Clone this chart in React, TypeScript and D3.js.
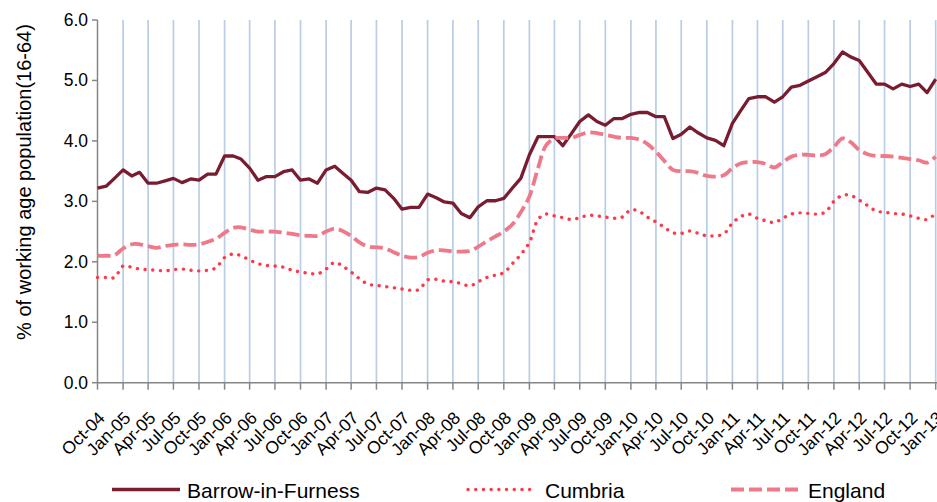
import React from "react";
import * as d3 from "d3";

const START = new Date(2004, 9, 1);
const END = new Date(2013, 0, 1);

const barrow = [
  3.22, 3.25, 3.38, 3.52, 3.42, 3.48, 3.30, 3.30, 3.34, 3.38,
  3.31, 3.37, 3.35, 3.45, 3.45, 3.75, 3.75, 3.70, 3.55, 3.35,
  3.41, 3.41, 3.49, 3.52, 3.35, 3.37, 3.30, 3.52, 3.58, 3.47,
  3.35, 3.16, 3.15, 3.22, 3.19, 3.05, 2.87, 2.90, 2.90, 3.12,
  3.06, 2.99, 2.97, 2.80, 2.73, 2.91, 3.01, 3.01, 3.05, 3.22,
  3.38, 3.77, 4.07, 4.07, 4.07, 3.92, 4.12, 4.32, 4.43, 4.32,
  4.26, 4.37, 4.37, 4.44, 4.47, 4.47, 4.40, 4.40, 4.04, 4.11,
  4.23, 4.13, 4.05, 4.01, 3.92, 4.29, 4.51, 4.70, 4.73, 4.73,
  4.64, 4.73, 4.89, 4.92, 4.99, 5.06, 5.13, 5.28, 5.47, 5.39,
  5.33, 5.14, 4.94, 4.94, 4.86, 4.94, 4.90, 4.94, 4.80, 5.02,
];

const cumbria = [
  1.74, 1.74, 1.74, 1.93, 1.91, 1.88, 1.87, 1.86, 1.85, 1.87,
  1.88, 1.86, 1.85, 1.86, 1.90, 2.07, 2.13, 2.10, 2.03, 1.97,
  1.94, 1.93, 1.91, 1.86, 1.83, 1.81, 1.80, 1.88, 1.99, 1.93,
  1.83, 1.72, 1.63, 1.61, 1.59, 1.57, 1.55, 1.53, 1.54, 1.70,
  1.71, 1.68, 1.67, 1.64, 1.60, 1.67, 1.74, 1.78, 1.82, 1.97,
  2.12, 2.32, 2.70, 2.79, 2.76, 2.73, 2.70, 2.73, 2.77, 2.76,
  2.74, 2.72, 2.74, 2.86, 2.83, 2.74, 2.66, 2.57, 2.48, 2.47,
  2.51, 2.47, 2.43, 2.43, 2.46, 2.64, 2.75, 2.79, 2.72, 2.68,
  2.65, 2.72, 2.79, 2.81, 2.80, 2.79, 2.82, 3.00, 3.10, 3.10,
  3.02, 2.93, 2.84, 2.82, 2.80, 2.79, 2.76, 2.72, 2.70, 2.80,
];

const england = [
  2.10, 2.10, 2.11, 2.22, 2.29, 2.29, 2.26, 2.23, 2.26, 2.28,
  2.29, 2.28, 2.29, 2.33, 2.38, 2.48, 2.56, 2.57, 2.53, 2.50,
  2.50, 2.50, 2.48, 2.46, 2.44, 2.43, 2.43, 2.50, 2.55, 2.51,
  2.43, 2.32, 2.25, 2.24, 2.22, 2.16, 2.10, 2.07, 2.08, 2.15,
  2.19, 2.19, 2.17, 2.17, 2.18, 2.25, 2.34, 2.42, 2.50, 2.62,
  2.82, 3.08, 3.55, 3.92, 4.04, 4.05, 4.05, 4.10, 4.14, 4.13,
  4.10, 4.07, 4.05, 4.05, 4.02, 3.95, 3.82, 3.67, 3.52, 3.50,
  3.50, 3.47, 3.42, 3.41, 3.43, 3.55, 3.63, 3.65, 3.65, 3.62,
  3.56, 3.65, 3.74, 3.77, 3.77, 3.76, 3.78, 3.90, 4.04, 3.98,
  3.85, 3.78, 3.75, 3.75, 3.74, 3.72, 3.70, 3.68, 3.64, 3.74,
];

const yTicks = [0, 1, 2, 3, 4, 5, 6];
const seriesNames = ["Barrow-in-Furness", "Cumbria", "England"];

const FONT = "'Liberation Sans', Arial, sans-serif";
const W = 937;
const H = 502;

export default function App() {
  const months = d3.timeMonth.range(START, d3.timeMonth.offset(END, 1));
  const tickDates = d3.timeMonth.every(3)!.range(START, d3.timeMonth.offset(END, 1));
  const fmt = d3.timeFormat("%b-%y");

  const x = d3.scaleTime().domain([START, END]).range([97.5, 935.7]);
  const y = d3.scaleLinear().domain([0, 6]).range([382.7, 20]);

  const linear = d3
    .line<number>()
    .x((_, i) => x(months[i]))
    .y((d) => y(d))
    .curve(d3.curveLinear);
  const smooth = d3
    .line<number>()
    .x((_, i) => x(months[i]))
    .y((d) => y(d))
    .curve(d3.curveCatmullRom.alpha(0.5));

  const axisColor = "#868686";
  const gridColor = "#b9cde5";
  const cBarrow = "#7a1c30";
  const cCumbria = "#ff3a48";
  const cEngland = "#ef7889";

  const legend = [
    { name: seriesNames[0], x0: 112, x1: 180, tx: 187, color: cBarrow, dash: undefined, w: 3.5, cap: "butt" },
    { name: seriesNames[1], x0: 468, x1: 535, tx: 545, color: cCumbria, dash: "0.1 7.6", w: 3.4, cap: "round" },
    { name: seriesNames[2], x0: 731, x1: 798, tx: 808, color: cEngland, dash: "13 5", w: 3.8, cap: "butt" },
  ];

  return (
    <div style={{ position: "fixed", left: 0, top: 0, width: W, height: H, background: "#fff" }}>
      <svg width={W} height={H} style={{ display: "block" }} fontFamily={FONT}>
        <rect x={0} y={0} width={W} height={H} fill="#fff" />
        {tickDates.slice(1).map((d, i) => (
          <line key={"g" + i} x1={x(d)} x2={x(d)} y1={y(6)} y2={y(0)} stroke={gridColor} strokeWidth={1.7} />
        ))}
        <line x1={97.5} x2={97.5} y1={y(6)} y2={y(0)} stroke={axisColor} strokeWidth={1.5} />
        {yTicks.map((t) => (
          <g key={"y" + t}>
            <line x1={92} x2={97.5} y1={y(t)} y2={y(t)} stroke={axisColor} strokeWidth={1.5} />
            <text x={88} y={y(t) + 6} textAnchor="end" fontSize={17.5} fill="#000">
              {t.toFixed(1)}
            </text>
          </g>
        ))}
        <line x1={97.5} x2={W} y1={y(0)} y2={y(0)} stroke={axisColor} strokeWidth={1.5} />
        {tickDates.map((d, i) => (
          <g key={"x" + i}>
            <line x1={x(d)} x2={x(d)} y1={y(0)} y2={y(0) + 7} stroke={axisColor} strokeWidth={1.5} />
            <text
              transform={`translate(${x(d) + 8.5},${419}) rotate(-45)`}
              textAnchor="end"
              fontSize={17.5}
              fill="#000"
            >
              {fmt(d)}
            </text>
          </g>
        ))}
        <text
          transform={`translate(31,182) rotate(-90)`}
          textAnchor="middle"
          fontSize={20}
          fill="#000"
        >
          % of working age population(16-64)
        </text>
        <path d={linear(barrow) || ""} fill="none" stroke={cBarrow} strokeWidth={3.3} strokeLinejoin="round" />
        <path
          d={smooth(cumbria) || ""}
          fill="none"
          stroke={cCumbria}
          strokeWidth={3.4}
          strokeDasharray="0.1 7.6"
          strokeLinecap="round"
        />
        <path
          d={smooth(england) || ""}
          fill="none"
          stroke={cEngland}
          strokeWidth={3.8}
          strokeDasharray="13 5"
        />
        {legend.map((l) => (
          <g key={l.name}>
            <line
              x1={l.x0}
              x2={l.x1}
              y1={489.5}
              y2={489.5}
              stroke={l.color}
              strokeWidth={l.w}
              strokeDasharray={l.dash}
              strokeLinecap={l.cap as any}
            />
            <text x={l.tx} y={498} fontSize={21} fill="#000">
              {l.name}
            </text>
          </g>
        ))}
      </svg>
    </div>
  );
}
